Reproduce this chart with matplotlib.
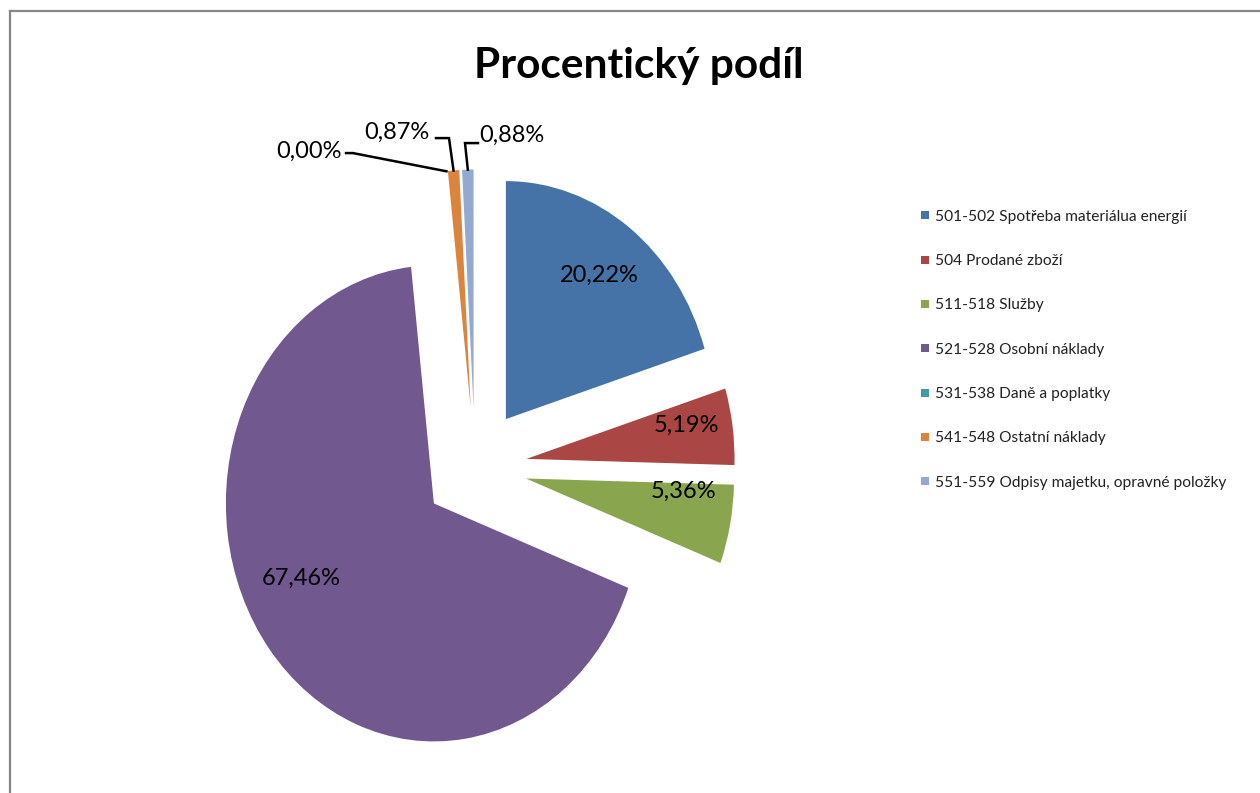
import matplotlib
matplotlib.use("Agg")
import matplotlib.pyplot as plt
import numpy as np
from matplotlib.lines import Line2D

plt.rcParams['font.family'] = ['Lato', 'DejaVu Sans']

# podíly jednotlivých skupin nákladů (%)
categories = [
    "501-502 Spotřeba materiálua energií",
    "504 Prodané zboží",
    "511-518 Služby",
    "521-528 Osobní náklady",
    "531-538 Daně a poplatky",
    "541-548 Ostatní náklady",
    "551-559 Odpisy majetku, opravné položky",
]
shares = [20.22, 5.19, 5.36, 67.46, 0.00, 0.87, 0.88]
colors = ["#4572A7", "#AA4643", "#89A54E", "#71588F", "#4198AF", "#DB843D", "#93A9CF"]

explode = 0.25
# umístění popisků uvnitř výsečí: (vzdálenost, úhel) od středu výseče
inner_pos = {0: (0.75, 53.4), 1: (0.78, 10.5), 2: (0.76, -4.1), 3: (0.71, -153.8)}
# popisky malých výsečí s odkazovou čarou: (text x, text y, začátek čáry x, zlom x, výška čáry)
outer_pos = {4: (-0.80, 1.325, -0.620, -0.587, 1.319),
             5: (-0.375, 1.408, -0.1875, -0.125, 1.382),
             6: (0.178, 1.395, 0.0144, -0.048, 1.361)}

W, H = 1260, 793
fig = plt.figure(figsize=(W / 100, H / 100), dpi=100)

# osy koláče - střed (475, 467) px, poloměr 208 x 238 px
cx, cy, rx, ry = 475, 467, 208, 238
x0, x1, y0, y1 = -2.0, 2.0, -1.35, 1.45
ax = fig.add_axes([(cx + x0 * rx) / W, (H - (cy - y0 * ry)) / H,
                   (x1 - x0) * rx / W, (y1 - y0) * ry / H])

wedges, _ = ax.pie(shares, colors=colors, startangle=90, counterclock=False,
                   explode=[explode] * len(shares),
                   wedgeprops=dict(linewidth=0))
ax.set_aspect('auto')
ax.set_xlim(x0, x1)
ax.set_ylim(y0, y1)
ax.axis('off')

labels = [f"{v:.2f}%".replace(".", ",") for v in shares]
for i, w in enumerate(wedges):
    mid = np.deg2rad((w.theta1 + w.theta2) / 2)
    ox, oy = w.center
    if i in inner_pos:
        d, a = inner_pos[i]
        a = np.deg2rad(a)
        ax.text(ox + d * np.cos(a), oy + d * np.sin(a), labels[i],
                ha='center', va='center', fontsize=17, color='black')
    else:
        tx, ty, sx, kx, ly = outer_pos[i]
        px, py = ox + np.cos(mid), oy + np.sin(mid)
        ax.text(tx, ty, labels[i], ha='center', va='center', fontsize=17, color='black')
        ax.plot([sx, kx, px], [ly, ly, py], color='black', lw=1.8,
                solid_joinstyle='miter', clip_on=False)

fig.text(639 / W, 1 - 66 / H, "Procentický podíl", ha='center', va='center',
         fontsize=30.5, fontweight='bold')

handles = [Line2D([], [], marker='s', linestyle='none', markersize=6,
                  markerfacecolor=c, markeredgewidth=0) for c in colors]
fig.legend(handles, categories, loc='upper left', bbox_to_anchor=(913 / W, 1 - 202 / H),
           frameon=False, fontsize=11.2, labelspacing=1.95, handlelength=0.6,
           handletextpad=0.3, borderpad=0, labelcolor='#222222')

# šedý rámeček grafu
fig.add_artist(Line2D([10 / W, 1], [1 - 11 / H, 1 - 11 / H], color='#868686', lw=1.6))
fig.add_artist(Line2D([10 / W, 10 / W], [0, 1 - 11 / H], color='#868686', lw=1.6))

fig.savefig("out.png", dpi=100)
